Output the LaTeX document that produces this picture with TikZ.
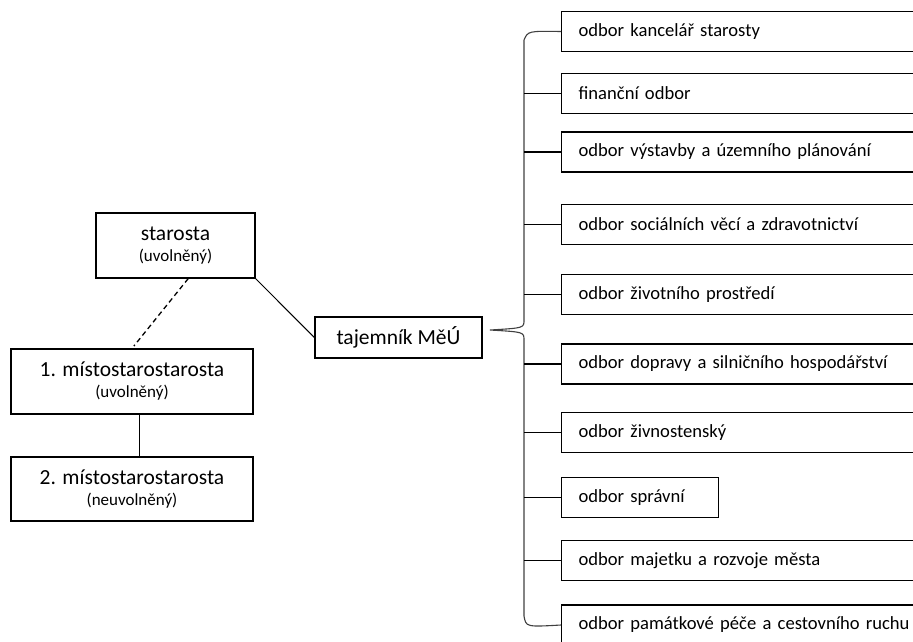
\documentclass[tikz,border=0pt]{standalone}
\usepackage{fontspec}
\setmainfont{Carlito}

\newcommand{\uvol}[1]{{\fontsize{17}{20}\selectfont #1}}
\newcommand{\leadfont}{\fontsize{21.5}{21}\selectfont}
\newcommand{\odborfont}{\fontsize{18.6}{22}\selectfont}

\tikzset{
  box/.style={draw, line width=1.2pt, inner sep=0pt},
  lead/.style={box, align=center, font=\leadfont},
  odbor/.style={box, anchor=west, minimum height=40pt, inner xsep=17pt,
    align=left, font=\odborfont},
}

\begin{document}
\begin{tikzpicture}[x=1pt,y=-1pt]
		\useasboundingbox (0,0) rectangle (913,641);
		\begin{scope}
			\clip (0,0) rectangle (913,641);

			\node[lead, minimum width=159pt, minimum height=65pt] (star) at (175.5,245.5) {starosta\\\uvol{(uvolněný)}};
			\node[lead, minimum width=242pt, minimum height=65pt] (m1) at (132,381.5) {1. místostarostarosta\\\uvol{(uvolněný)}};
			\node[lead, minimum width=242pt, minimum height=64pt] (m2) at (132,489) {2. místostarostarosta\\\uvol{(neuvolněný)}};
			\node[lead, minimum width=167pt, minimum height=41pt] (taj) at (398.5,337.5) {tajemník MěÚ};

			\draw[dash pattern=on 5pt off 3.5pt, line width=1.3pt, shorten >=3pt] (star.291) -- (m1.north);
			\draw[line width=1pt] ([xshift=7pt]m1.south) -- ([xshift=7pt]m2.north);
			\draw[line width=1pt] (star.south east) -- (taj.west);

			% odbory
			\foreach \y/\w/\txt [count=\i] in {
				31.5/326/odbor kancelář starosty,
				93.5/326/finanční odbor,
				152/326/odbor výstavby a územního plánování,
				224.5/326/odbor sociálních věcí a zdravotnictví,
				294.5/326/odbor životního prostředí,
				364/326/odbor dopravy a silničního hospodářství,
				432.5/326/odbor živnostenský,
				497.5/123/odbor správní,
				560.5/326/odbor majetku a rozvoje města,
				625/326/odbor památkové péče a cestovního ruchu}
				\node[odbor, text width=\w pt] (b\i) at (561,\y) {\mbox{\txt}};

			\coordinate (spine) at (524,0);
			\coordinate (tip) at (490,330);
			\draw[line width=1.1pt, black!75] (b1.west) .. controls (528,31) .. (524,40) -- (524,320)
				.. controls (524,328) .. (tip) .. controls (524,332) .. (524,340) -- (524,616)
				.. controls (526,627) .. (b10.west);
			\foreach \i in {2,...,9}
				\draw[line width=1.1pt] (b\i.west) -- (b\i.west -| spine);
		\end{scope}
\end{tikzpicture}
\end{document}
